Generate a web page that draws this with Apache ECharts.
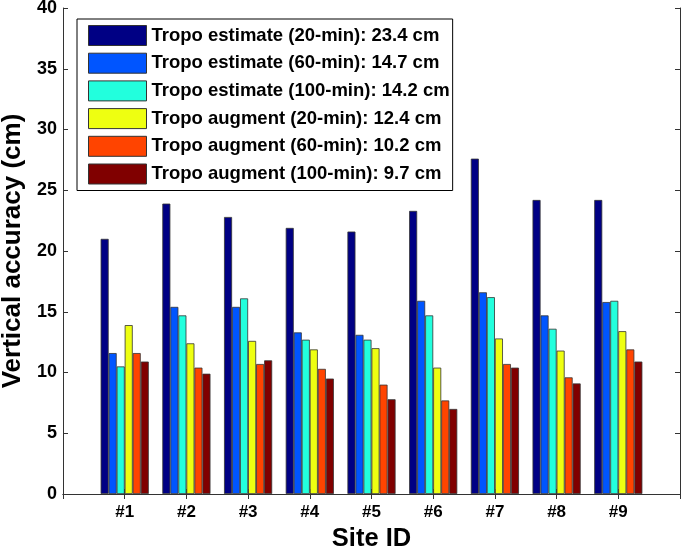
<!DOCTYPE html>
<html>
<head>
<meta charset="utf-8">
<script src="https://cdn.jsdelivr.net/npm/echarts@6/dist/echarts.min.js"></script>
<style>html,body{margin:0;padding:0;background:#fff}#c{width:685px;height:553px}</style>
</head>
<body>
<div id="c"></div>
<script>
const sites = ['#1','#2','#3','#4','#5','#6','#7','#8','#9'];
const seriesNames = [
  'Tropo estimate (20-min): 23.4 cm',
  'Tropo estimate (60-min): 14.7 cm',
  'Tropo estimate (100-min): 14.2 cm',
  'Tropo augment (20-min): 12.4 cm',
  'Tropo augment (60-min): 10.2 cm',
  'Tropo augment (100-min): 9.7 cm'
];
const estimate20  = [21.0, 23.9, 22.8, 21.9, 21.6, 23.3, 27.6, 24.2, 24.2];
const estimate60  = [11.6, 15.4, 15.4, 13.3, 13.1, 15.9, 16.6, 14.7, 15.8];
const estimate100 = [10.5, 14.7, 16.1, 12.7, 12.7, 14.7, 16.2, 13.6, 15.9];
const augment20   = [13.9, 12.4, 12.6, 11.9, 12.0, 10.4, 12.8, 11.8, 13.4];
const augment60   = [11.6, 10.4, 10.7, 10.3, 9.0, 7.7, 10.7, 9.6, 11.9];
const augment100  = [10.9, 9.9, 11.0, 9.5, 7.8, 7.0, 10.4, 9.1, 10.9];
const yTicks = [0, 5, 10, 15, 20, 25, 30, 35, 40];

const colors = ['#000084', '#0055FF', '#22FFDD', '#EEFF11', '#FF4400', '#800000'];
const allValues = [estimate20, estimate60, estimate100, augment20, augment60, augment100];
const FONT = "'Liberation Sans', Arial, Helvetica, sans-serif";
const AX = '#333';

// x axis spans 0..10 like the original; sites sit at 1..9
const cats = [''].concat(sites, ['']);

const chart = echarts.init(document.getElementById('c'));
chart.setOption({
  animation: false,
  textStyle: { fontFamily: FONT },
  grid: { left: 63, right: 5, top: 8, bottom: 59, containLabel: false, outerBoundsMode: 'none' },
  legend: {
    orient: 'vertical',
    left: 77, top: 19,
    padding: [6, 3, 6, 11],
    itemWidth: 58, itemHeight: 20, itemGap: 6.7,
    icon: 'rect',
    borderColor: '#000', borderWidth: 1,
    backgroundColor: '#fff',
    itemStyle: { borderColor: '#333', borderWidth: 1 },
    textStyle: { fontFamily: FONT, fontWeight: 'bold', fontSize: 18.5, lineHeight: 20, color: '#000' },
    data: seriesNames
  },
  xAxis: [{
    type: 'category', data: cats, boundaryGap: false, position: 'bottom',
    axisLine: { lineStyle: { color: AX, width: 1 } },
    axisTick: { inside: true, length: 5, lineStyle: { color: AX } },
    axisLabel: { fontFamily: FONT, fontWeight: 'bold', fontSize: 17, color: '#000', margin: 10, interval: 0 },
    name: 'Site ID', nameLocation: 'middle', nameGap: 22,
    nameTextStyle: { fontFamily: FONT, fontWeight: 'bold', fontSize: 25.5, color: '#000' }
  }, {
    type: 'category', data: cats, boundaryGap: false, position: 'top',
    axisLine: { lineStyle: { color: AX, width: 1 } },
    axisTick: { inside: true, length: 5, lineStyle: { color: AX } },
    axisLabel: { show: false }
  }],
  yAxis: [{
    type: 'value', min: yTicks[0], max: yTicks[yTicks.length - 1], interval: 5, position: 'left',
    axisLine: { show: true, lineStyle: { color: AX, width: 1 } },
    axisTick: { show: true, inside: true, length: 5, lineStyle: { color: AX } },
    splitLine: { show: false },
    axisLabel: { fontFamily: FONT, fontWeight: 'bold', fontSize: 18, color: '#000', margin: 6 },
    name: 'Vertical accuracy (cm)', nameLocation: 'middle', nameGap: 36, nameRotate: 90,
    nameTextStyle: { fontFamily: FONT, fontWeight: 'bold', fontSize: 26, color: '#000' }
  }, {
    type: 'value', min: yTicks[0], max: yTicks[yTicks.length - 1], interval: 5, position: 'right',
    axisLine: { show: true, lineStyle: { color: AX, width: 1 } },
    axisTick: { show: true, inside: true, length: 5, lineStyle: { color: AX } },
    splitLine: { show: false },
    axisLabel: { show: false }
  }],
  series: seriesNames.map((name, i) => ({
    name: name,
    type: 'bar',
    xAxisIndex: 0, yAxisIndex: 0,
    barGap: '0%', barCategoryGap: '22%',
    itemStyle: { color: colors[i], borderColor: '#333', borderWidth: 0.8 },
    data: [null].concat(allValues[i], [null])
  }))
});
</script>
</body>
</html>
